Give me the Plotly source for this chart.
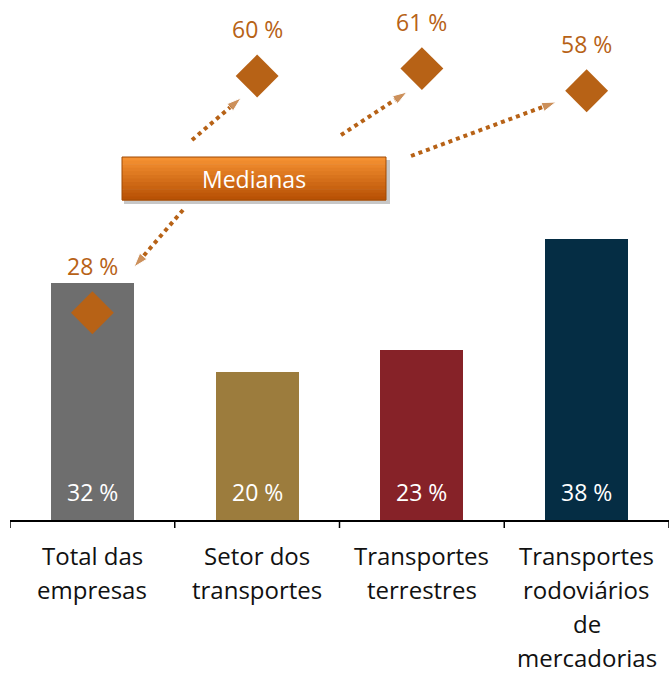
import plotly.graph_objects as go

categories = ["Total das<br>empresas", "Setor dos<br>transportes", "Transportes<br>terrestres",
              "Transportes<br>rodoviários<br>de<br>mercadorias"]
bar_values = [32, 20, 23, 38]
median_values = [28, 60, 61, 58]
bar_colors = ["#6E6E6E", "#9C7C3D", "#862228", "#052D44"]
median_color = "#B76216"
box_label = "Medianas"

W, H = 669, 676
ML, MR, MT, MB = 10, 0, 0, 676 - 520
PW, PH = W - ML - MR, H - MT - MB
YMAX = PH / 7.4
FONT = "Open Sans"

def px2x(px):
    return (px - ML) / PW * 4 - 0.5

def px2y(py):
    return (MT + PH - py) / PH * YMAX

xs = list(range(len(categories)))
fig = go.Figure()

fig.add_trace(go.Bar(x=xs, y=bar_values, marker=dict(color=bar_colors, line=dict(width=0)),
                     width=0.505, hoverinfo="skip", showlegend=False))

fig.add_trace(go.Scatter(x=xs, y=median_values, mode="markers",
                         marker=dict(symbol="diamond", size=33, color=median_color),
                         hoverinfo="skip", showlegend=False))

annotations = []
for i, v in enumerate(bar_values):
    annotations.append(dict(x=i, y=0, text=f"{v} %", showarrow=False, yshift=28,
                            font=dict(family=FONT, size=23, color="white")))
for i, v in enumerate(median_values):
    annotations.append(dict(x=i, y=v, text=f"{v} %", showarrow=False, yshift=47,
                            font=dict(family=FONT, size=23, color=median_color)))
# category labels, line by line
for i, lab in enumerate(categories):
    for j, line in enumerate(lab.split("<br>")):
        annotations.append(dict(x=i, y=0, text=line, showarrow=False, yref="y",
                                yshift=-(35 + 34.3 * j), font=dict(family=FONT, size=24, color="#111111")))

# arrows (reference pixel positions of start/end)
arrows = [((183, 210), (134, 267)), ((192, 140), (241, 98)),
          ((341, 135), (407, 92)), ((411, 156), (556, 102))]
for (sx, sy), (ex, ey) in arrows:
    fig.add_trace(go.Scatter(x=[px2x(sx), px2x(ex)], y=[px2y(sy), px2y(ey)], mode="lines+markers",
                             line=dict(color=median_color, width=4, dash="dot"),
                             marker=dict(symbol=["circle", "arrow"], size=[0, 15], color=median_color,
                                         angleref="previous"),
                             hoverinfo="skip", showlegend=False))

shapes = []
# category boundary ticks
for b in range(len(categories) + 1):
    shapes.append(dict(type="line", xref="x", yref="paper", x0=b - 0.5, x1=b - 0.5,
                       y0=0, y1=-8 / PH, line=dict(color="black", width=1.5)))

bx0, bx1, by0, by1 = 122, 386, 157, 200
# shadow
shapes.append(dict(type="rect", xref="x", yref="y", x0=px2x(bx0 + 2), x1=px2x(bx1 + 4),
                   y0=px2y(by0 + 3), y1=px2y(by1 + 4), line=dict(width=0),
                   fillcolor="rgba(0,0,0,0.22)", layer="above"))
# gradient bands
top = (245, 145, 50)
bot = (185, 82, 5)
n = 12
for k in range(n):
    t = k / (n - 1)
    c = tuple(int(top[m] + (bot[m] - top[m]) * t) for m in range(3))
    ya = by0 + (by1 - by0) * k / n
    yb = by0 + (by1 - by0) * (k + 1) / n
    shapes.append(dict(type="rect", xref="x", yref="y", x0=px2x(bx0), x1=px2x(bx1),
                       y0=px2y(ya), y1=px2y(yb + 0.6), line=dict(width=0),
                       fillcolor=f"rgb{c}", layer="above"))
shapes.append(dict(type="rect", xref="x", yref="y", x0=px2x(bx0), x1=px2x(bx1),
                   y0=px2y(by0), y1=px2y(by1), line=dict(width=1, color="#A04A05"),
                   fillcolor="rgba(0,0,0,0)", layer="above"))
annotations.append(dict(x=px2x((bx0 + bx1) / 2), y=px2y((by0 + by1) / 2), text=box_label,
                        showarrow=False, font=dict(family=FONT, size=23, color="white")))

fig.update_layout(
    width=W, height=H, margin=dict(l=ML, r=MR, t=MT, b=MB),
    plot_bgcolor="white", paper_bgcolor="white",
    xaxis=dict(range=[-0.5, 3.5], showticklabels=False, showline=True, linecolor="black",
               linewidth=1.5, ticks="", showgrid=False, zeroline=False, fixedrange=True),
    yaxis=dict(range=[0, YMAX], visible=False, showgrid=False, zeroline=False),
    annotations=annotations, shapes=shapes, bargap=0,
)
fig.write_html("out.html", config={"displayModeBar": False},
               post_script="document.body.style.margin='0';"
                           "document.documentElement.style.overflow='hidden';")
